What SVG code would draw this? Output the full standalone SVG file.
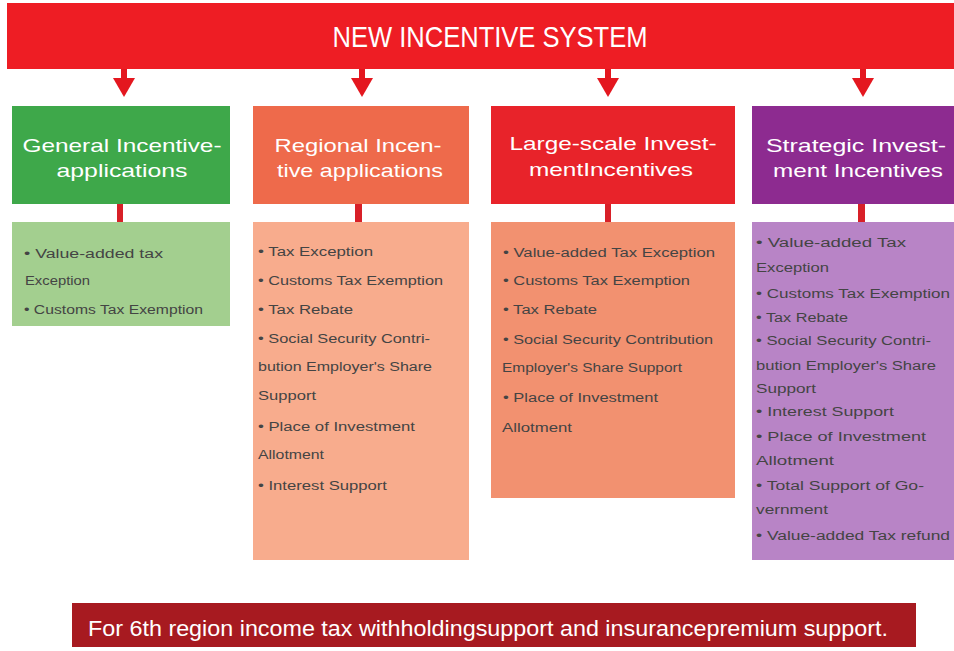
<svg xmlns="http://www.w3.org/2000/svg" width="954" height="651" viewBox="0 0 954 651">
<style>
.hd{font-family:"Liberation Sans",Arial,sans-serif;font-size:19px;fill:#ffffff;text-anchor:middle}
.bd{font-family:"Liberation Sans",Arial,sans-serif;font-size:12px;fill:#444444}
.conn{fill:#d82028}
.arr{fill:#e4171f}
</style>
<defs>
<g id="arrow">
<rect x="-3" y="69" width="6" height="11"/>
<polygon points="-11,78 11,78 0,97"/>
</g>
</defs>
<rect width="954" height="651" fill="#ffffff"/>

<g id="top">
<rect x="7" y="3" width="947" height="66" fill="#ee1d24"/>
<text x="490" y="47" font-family="Liberation Sans,Arial,sans-serif" font-size="30" fill="#ffffff" text-anchor="middle" textLength="315" lengthAdjust="spacingAndGlyphs">NEW INCENTIVE SYSTEM</text>
</g>

<g id="connectors">
<use href="#arrow" x="124" class="arr"/>
<use href="#arrow" x="362" class="arr"/>
<use href="#arrow" x="608" class="arr"/>
<use href="#arrow" x="863" class="arr"/>
<rect class="conn" x="117" y="204" width="6" height="18"/>
<rect class="conn" x="355" y="204" width="7" height="18"/>
<rect class="conn" x="605" y="204" width="6" height="18"/>
<rect class="conn" x="858" y="204" width="7" height="18"/>
</g>

<g id="general">
<rect x="12" y="106" width="218" height="98" fill="#3ea84a"/>
<text class="hd" x="122" y="152" textLength="199" lengthAdjust="spacingAndGlyphs">General Incentive-</text>
<text class="hd" x="122" y="177" textLength="131" lengthAdjust="spacingAndGlyphs">applications</text>
</g>
<g id="general-body">
<rect x="12" y="222" width="218" height="104" fill="#a3cf8f"/>
<text class="bd" x="24" y="258" textLength="139" lengthAdjust="spacingAndGlyphs">• Value-added tax</text>
<text class="bd" x="25" y="285" textLength="65" lengthAdjust="spacingAndGlyphs">Exception</text>
<text class="bd" x="24" y="314" textLength="179" lengthAdjust="spacingAndGlyphs">• Customs Tax Exemption</text>
</g>

<g id="regional">
<rect x="253" y="106" width="216" height="98" fill="#ee6a4b"/>
<text class="hd" x="358" y="152" textLength="167" lengthAdjust="spacingAndGlyphs">Regional Incen-</text>
<text class="hd" x="360" y="177" textLength="166" lengthAdjust="spacingAndGlyphs">tive applications</text>
</g>
<g id="regional-body">
<rect x="253" y="222" width="216" height="338" fill="#f8ac8d"/>
<text class="bd" x="258" y="256" textLength="115" lengthAdjust="spacingAndGlyphs">• Tax Exception</text>
<text class="bd" x="258" y="285" textLength="185" lengthAdjust="spacingAndGlyphs">•  Customs Tax Exemption</text>
<text class="bd" x="258" y="314" textLength="95" lengthAdjust="spacingAndGlyphs">• Tax Rebate</text>
<text class="bd" x="258" y="343" textLength="172" lengthAdjust="spacingAndGlyphs">• Social Security Contri-</text>
<text class="bd" x="258" y="371" textLength="174" lengthAdjust="spacingAndGlyphs">bution Employer's Share</text>
<text class="bd" x="258" y="400" textLength="58" lengthAdjust="spacingAndGlyphs">Support</text>
<text class="bd" x="258" y="431" textLength="157" lengthAdjust="spacingAndGlyphs">• Place of Investment</text>
<text class="bd" x="258" y="459" textLength="66" lengthAdjust="spacingAndGlyphs">Allotment</text>
<text class="bd" x="258" y="490" textLength="129" lengthAdjust="spacingAndGlyphs">• Interest Support</text>
</g>

<g id="largescale">
<rect x="491" y="106" width="244" height="98" fill="#e8232a"/>
<text class="hd" x="613" y="150" textLength="207" lengthAdjust="spacingAndGlyphs">Large-scale Invest-</text>
<text class="hd" x="611" y="176" textLength="164" lengthAdjust="spacingAndGlyphs">mentIncentives</text>
</g>
<g id="largescale-body">
<rect x="491" y="222" width="244" height="276" fill="#f29170"/>
<text class="bd" x="503" y="257" textLength="212" lengthAdjust="spacingAndGlyphs">• Value-added Tax Exception</text>
<text class="bd" x="503" y="285" textLength="187" lengthAdjust="spacingAndGlyphs">•  Customs Tax Exemption</text>
<text class="bd" x="503" y="314" textLength="94" lengthAdjust="spacingAndGlyphs">• Tax Rebate</text>
<text class="bd" x="503" y="344" textLength="210" lengthAdjust="spacingAndGlyphs">• Social Security Contribution</text>
<text class="bd" x="502" y="372" textLength="180" lengthAdjust="spacingAndGlyphs">Employer's Share Support</text>
<text class="bd" x="503" y="402" textLength="155" lengthAdjust="spacingAndGlyphs">• Place of Investment</text>
<text class="bd" x="502" y="432" textLength="70" lengthAdjust="spacingAndGlyphs">Allotment</text>
</g>

<g id="strategic">
<rect x="752" y="106" width="202" height="98" fill="#8d2b90"/>
<text class="hd" x="856" y="152" textLength="180" lengthAdjust="spacingAndGlyphs">Strategic Invest-</text>
<text class="hd" x="858" y="177" textLength="170" lengthAdjust="spacingAndGlyphs">ment Incentives</text>
</g>
<g id="strategic-body">
<rect x="752" y="222" width="202" height="338" fill="#b884c6"/>
<text class="bd" x="756" y="247" textLength="150" lengthAdjust="spacingAndGlyphs">• Value-added Tax</text>
<text class="bd" x="756" y="272" textLength="73" lengthAdjust="spacingAndGlyphs">Exception</text>
<text class="bd" x="756" y="298" textLength="194" lengthAdjust="spacingAndGlyphs">• Customs Tax Exemption</text>
<text class="bd" x="756" y="322" textLength="92" lengthAdjust="spacingAndGlyphs">• Tax Rebate</text>
<text class="bd" x="756" y="345" textLength="175" lengthAdjust="spacingAndGlyphs">• Social Security Contri-</text>
<text class="bd" x="756" y="370" textLength="180" lengthAdjust="spacingAndGlyphs">bution Employer's Share</text>
<text class="bd" x="756" y="393" textLength="60" lengthAdjust="spacingAndGlyphs">Support</text>
<text class="bd" x="756" y="416" textLength="138" lengthAdjust="spacingAndGlyphs">• Interest Support</text>
<text class="bd" x="756" y="441" textLength="170" lengthAdjust="spacingAndGlyphs">• Place of Investment</text>
<text class="bd" x="756" y="465" textLength="78" lengthAdjust="spacingAndGlyphs">Allotment</text>
<text class="bd" x="756" y="490" textLength="168" lengthAdjust="spacingAndGlyphs">• Total Support of Go-</text>
<text class="bd" x="756" y="514" textLength="72" lengthAdjust="spacingAndGlyphs">vernment</text>
<text class="bd" x="756" y="540" textLength="194" lengthAdjust="spacingAndGlyphs">• Value-added Tax refund</text>
</g>

<g id="bottom">
<rect x="72" y="603" width="844" height="44" fill="#a71a20"/>
<text x="88" y="636" font-family="Liberation Sans,Arial,sans-serif" font-size="22" fill="#ffffff" textLength="800" lengthAdjust="spacingAndGlyphs">For 6th region income tax withholdingsupport and insurancepremium support.</text>
</g>
</svg>
